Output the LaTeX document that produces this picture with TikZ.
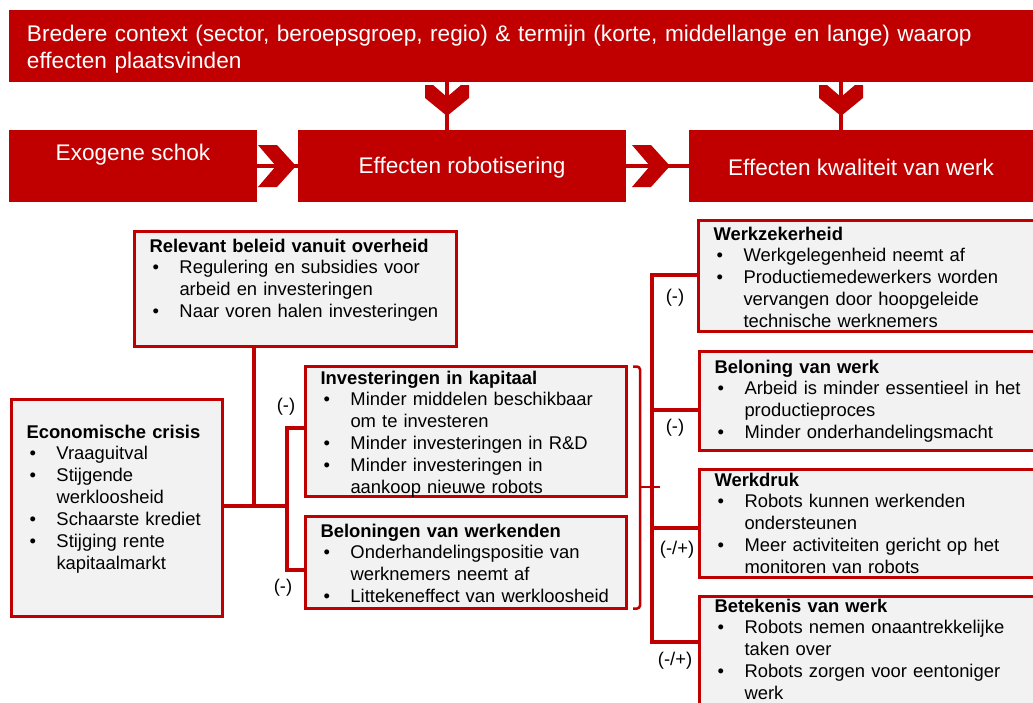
\documentclass[tikz,border=0pt]{standalone}
\usepackage{fontspec}
\setmainfont{Liberation Sans}
\usetikzlibrary{calc}
\definecolor{rob}{RGB}{192,0,0}
\definecolor{lgray}{RGB}{242,242,242}
\newcommand{\itm}{\par\hangindent=30pt\hangafter=1\noindent\hbox to 30pt{\hskip3pt\textbullet\hfil}}

\begin{document}
\begin{tikzpicture}[x=1pt,y=-1pt,
    big/.style={fill=rob,text=white,inner sep=0pt,outer sep=0pt,anchor=north west,
      font=\fontsize{22.6}{27}\selectfont},
    gb/.style={draw=rob,line width=3pt,fill=lgray,inner sep=0pt,outer sep=0pt,
      anchor=north west,align=left,font=\fontsize{18.4}{21.9}\selectfont,
      execute at begin node={\leftskip=15pt}},
    cn/.style={draw=rob,line width=4pt},
    st/.style={draw=rob,line width=4.5pt},
    brk/.style={draw=rob,line width=2.5pt,rounded corners=3pt},
    lab/.style={font=\fontsize{18.4}{21.9}\selectfont,inner sep=0pt},
    chev/.pic={\fill[rob] (0,-21) -- (19,-21) -- (38,0) -- (19,21) -- (0,21) -- (18,0) -- cycle;},
    chevd/.pic={\fill[rob] (-22,0) -- (-14,0) -- (0,12) -- (14,0) -- (22,0) -- (22,13)
      -- (0,31) -- (-22,13) -- cycle;}]
  \useasboundingbox (0,0) rectangle (1033,702);

  % top row
  \node[big,text width=988pt,inner xsep=18pt,align=left,text height=31pt,text depth=41pt] (ctx) at (9,10)
    {Bredere context (sector, beroepsgroep, regio) \& termijn (korte, middellange en lange) waarop\\effecten plaatsvinden};
  \node[big,minimum width=248pt,text height=30pt,text depth=42pt] (exo) at (9,130) {Exogene schok};
  \node[big,minimum width=328pt,text height=43pt,text depth=29pt] (robo) at (298,130) {Effecten robotisering};
  \node[big,minimum width=344pt,text height=45pt,text depth=27pt] (kwal) at (689,130) {Effecten kwaliteit van werk};

  \coordinate (d1) at (447,100);
  \coordinate (d2) at (841,100);
  \draw[st] (ctx.south -| d1) -- (robo.north -| d1);
  \draw[st] (ctx.south -| d2) -- (kwal.north -| d2);
  \draw[st] (exo) -- (robo);
  \draw[st] (robo) -- (kwal);
  \pic at (447,85) {chevd};
  \pic at (841,85) {chevd};
  \pic at (258,166) {chev};
  \pic at (632,166) {chev};

  % left part
  \node[gb,text width=322pt,text height=20.5pt,text depth=94.5pt] (beleid) at (134.5,231.5)
    {\textbf{Relevant beleid vanuit overheid}
     \itm Regulering en subsidies voor\newline arbeid en investeringen
     \itm Naar voren halen investeringen\par};
  \node[gb,text width=211pt,text height=38.5pt,text depth=178.5pt] (crisis) at (11.5,399.5)
    {\textbf{Economische crisis}
     \itm Vraaguitval
     \itm Stijgende\newline werkloosheid
     \itm Schaarste krediet
     \itm Stijging rente\newline kapitaalmarkt\par};
  \node[gb,text width=321pt,text height=17.5pt,text depth=112.5pt] (invest) at (305.5,366.5)
    {\textbf{Investeringen in kapitaal}
     \itm Minder middelen beschikbaar\newline om te investeren
     \itm Minder investeringen in R\&D
     \itm Minder investeringen in\newline aankoop nieuwe robots\par};
  \node[gb,text width=321pt,text height=20.5pt,text depth=71.5pt] (belonw) at (305.5,516.5)
    {\textbf{Beloningen van werkenden}
     \itm Onderhandelingspositie van\newline werknemers neemt af
     \itm Littekeneffect van werkloosheid\par};

  \coordinate (jb) at (254,506);
  \coordinate (jl) at (287,506);
  \coordinate (ja) at (287,428);
  \coordinate (jc) at (287,570);
  \draw[cn] (beleid.south -| jb) -- (jb);
  \draw[cn] (crisis.east |- jl) -- (jl);
  \draw[cn] (invest.west |- ja) -- (ja) -- (jc) -- (belonw.west |- jc);
  \node[lab] (m1) at (286,407) {(-)};
  \node[lab] (m2) at (283,588) {(-)};

  \draw[brk] ([xshift=6.5pt]invest.north east) -- ++(7,0) |- ([xshift=6.5pt]belonw.south east);
  \coordinate (bk) at (640,487);
  \draw[brk] (bk) -- ++(20,0);

  % right part
  \node[gb,text width=345pt,text height=19.5pt,text depth=91.5pt] (zeker) at (698.5,220.5)
    {\textbf{Werkzekerheid}
     \itm Werkgelegenheid neemt af
     \itm Productiemedewerkers worden\newline vervangen door hoopgeleide\newline technische werknemers\par};
  \node[gb,text width=345pt,text height=21.5pt,text depth=77.5pt] (beloning) at (699.5,351.5)
    {\textbf{Beloning van werk}
     \itm Arbeid is minder essentieel in het\newline productieproces
     \itm Minder onderhandelingsmacht\par};
  \node[gb,text width=345pt,text height=16.5pt,text depth=91.5pt] (druk) at (699.5,469.5)
    {\textbf{Werkdruk}
     \itm Robots kunnen werkenden\newline ondersteunen
     \itm Meer activiteiten gericht op het\newline monitoren van robots\par};
  \node[gb,text width=345pt,text height=15.5pt,text depth=111pt] (betek) at (699.5,596.5)
    {\textbf{Betekenis van werk}
     \itm Robots nemen onaantrekkelijke\newline taken over
     \itm Robots zorgen voor eentoniger\newline werk\par};

  \coordinate (r1) at (652,275);
  \coordinate (r2) at (652,410);
  \coordinate (r3) at (652,528);
  \coordinate (r4) at (652,642);
  \draw[cn] (zeker.west |- r1) -- (r1) -- (r4) -- (betek.west |- r4);
  \draw[cn] (r2) -- (beloning.west |- r2);
  \draw[cn] (r3) -- (druk.west |- r3);
  \node[lab] (m3) at (675,298) {(-)};
  \node[lab] (m4) at (675,428) {(-)};
  \node[lab] (m5) at (677,550) {(-/+)};
  \node[lab] (m6) at (675,661) {(-/+)};
\end{tikzpicture}
\end{document}
